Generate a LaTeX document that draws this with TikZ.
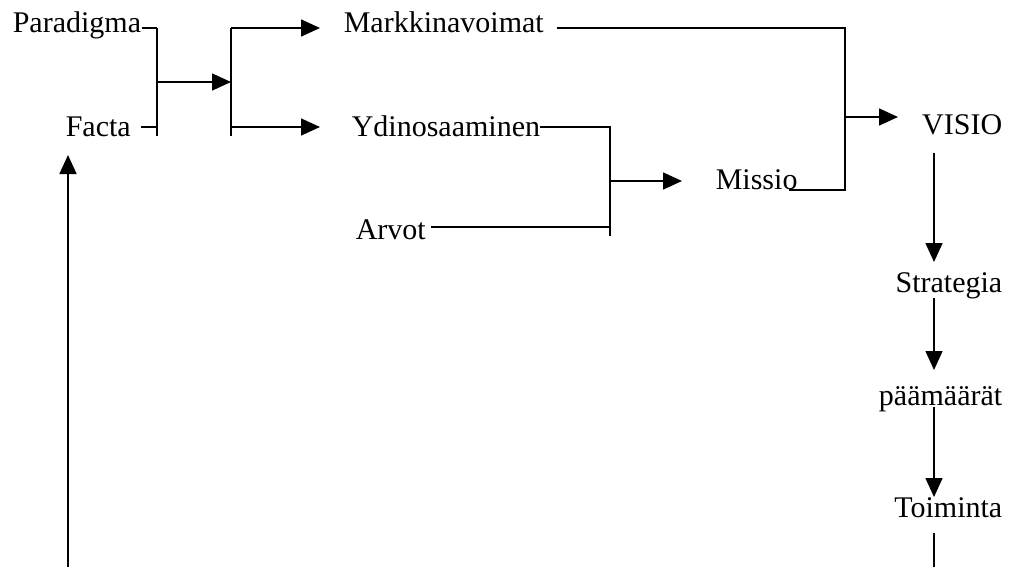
\documentclass[tikz,border=0pt]{standalone}
\usepackage{fontspec}
\setmainfont{Liberation Serif}
\usetikzlibrary{arrows.meta}
\begin{document}
\begin{tikzpicture}[x=1pt,y=-1pt,line width=1.6pt,
  >={Triangle[length=19pt,width=17pt]},
  lbl/.style={inner sep=0pt,font=\fontsize{30}{36}\selectfont}]
\useasboundingbox (0,0) rectangle (1014,567);
% text nodes
\node[lbl,anchor=base west] (par) at (12,33) {Paradigma};
\node[lbl,anchor=base west] (fac) at (65,136) {Facta};
\node[lbl,anchor=base west] (mar) at (343,33) {Markkinavoimat};
\node[lbl,anchor=base west] (ydi) at (351,136) {Ydinosaaminen};
\node[lbl,anchor=base west] (arv) at (355,239) {Arvot};
\node[lbl,anchor=base west] (mis) at (715,189) {Missio};
\node[lbl,anchor=base east] (vis) at (1003,135) {VISIO};
\node[lbl,anchor=base east] (str) at (1003,292) {Strategia};
\node[lbl,anchor=base east] (paa) at (1003,405) {päämäärät};
\node[lbl,anchor=base east] (toi) at (1003,517) {Toiminta};
% junction coordinates
\coordinate (j1t) at (157,28);
\coordinate (j1b) at (157,136);
\coordinate (j1m) at (157,82);
\coordinate (j2t) at (231,28);
\coordinate (j2b) at (231,136);
\coordinate (j2m) at (231,82);
\coordinate (j2y) at (231,127);
\coordinate (tm) at (320,28);
\coordinate (ty) at (320,127);
\coordinate (j3t) at (610,127);
\coordinate (j3b) at (610,236);
\coordinate (j3m) at (610,181);
\coordinate (j3a) at (610,227);
\coordinate (tmis) at (682,181);
\coordinate (j4t) at (845,28);
\coordinate (j4b) at (845,190);
\coordinate (j4m) at (845,117);
\coordinate (tvis) at (898,117);
\coordinate (v1s) at (934,153);
\coordinate (v1e) at (934,262);
\coordinate (v2s) at (934,298);
\coordinate (v2e) at (934,370);
\coordinate (v3s) at (934,407);
\coordinate (v3e) at (934,497);
\coordinate (v4s) at (934,533);
\coordinate (v4e) at (934,567);
\coordinate (fb) at (68,567);
\coordinate (ft) at (68,155);
% connectors
\draw ([yshift=5pt]par.base east) -- (j1t);
\draw ([xshift=9pt,yshift=9pt]fac.base east) -- (157,127);
\draw (j1t) -- (j1b);
\draw[->] (j1m) -- (j2m);
\draw (j2t) -- (j2b);
\draw[->] (j2t) -- (tm);
\draw[->] (j2y) -- (ty);
\draw ([xshift=12pt,yshift=5pt]mar.base east) -- (j4t) -- (j4b) -- ([xshift=-9pt,yshift=-1pt]mis.base east);
\draw[->] (j4m) -- (tvis);
\draw ([xshift=-1pt,yshift=9pt]ydi.base east) -- (j3t) -- (j3b);
\draw ([xshift=4pt,yshift=12pt]arv.base east) -- (j3a);
\draw[->] (j3m) -- (tmis);
\draw[->] (v1s) -- (v1e);
\draw[->] (v2s) -- (v2e);
\draw[->] (v3s) -- (v3e);
\draw (v4s) -- (v4e);
\draw[->] (fb) -- (ft);
\end{tikzpicture}
\end{document}
